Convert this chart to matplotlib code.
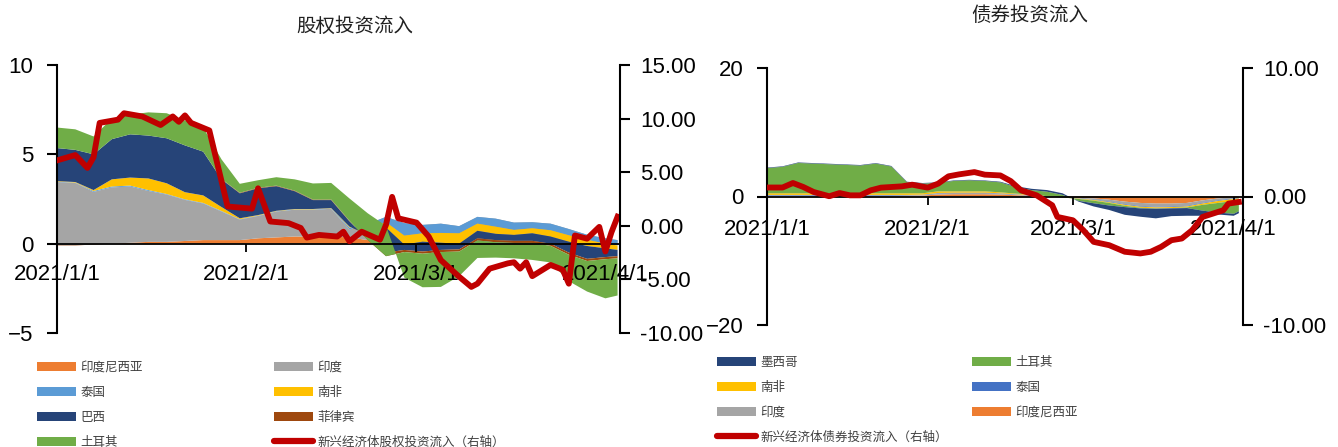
import pandas as pd
import matplotlib
matplotlib.use('Agg')
import matplotlib.pyplot as plt
import matplotlib.dates as mdates
from matplotlib.patches import Patch
from matplotlib.lines import Line2D
from matplotlib.ticker import FormatStrFormatter

START = pd.Timestamp('2021-01-01')

# ---- equity inflows (left panel), stacked in this order ----
eq_area_days = [0, 3, 6, 9, 12, 15, 18, 21, 24, 27, 30, 33, 36, 39, 42, 45,
                48, 51, 54, 57, 60, 63, 66, 69, 72, 75, 78, 81, 84, 87, 90, 92]
eq_indonesia = [-0.1, -0.1, -0.05, 0.0, 0.05, 0.1, 0.1, 0.15, 0.2, 0.2, 0.2, 0.3, 0.35, 0.4, 0.4, 0.4,
                0.35, 0.2, 0.2, 0.05, 0.0, 0.0, 0.0, 0.0, 0.0, 0.0, 0.0, 0.0, 0.0, 0.0, 0.0, 0.0]
eq_india = [3.55, 3.5, 2.95, 3.15, 3.15, 2.85, 2.65, 2.3, 2.05, 1.6, 1.15, 1.25, 1.45, 1.5, 1.5, 1.55,
            0.45, 0.9, 1.3, 1.1, 1.05, 1.12, 0.98, 1.5, 1.4, 1.18, 1.2, 1.12, 0.82, 0.5, 0.3, 0.2]
eq_thailand = [0.02, 0.02, 0.05, 0.05, 0.05, 0.05, 0.03, 0.03, 0.03, 0.03, 0.02, 0.02, 0.02, 0.02, 0.02, 0.02,
               0.1, -0.3, -0.3, -0.7, -0.47, -0.52, -0.4, -0.38, -0.45, -0.41, -0.34, -0.37, -0.35, -0.28, -0.3, -0.3]
eq_southafrica = [0.03, 0.03, 0.05, 0.4, 0.45, 0.65, 0.6, 0.4, 0.42, 0.22, 0.05, 0.03, 0.02, 0.02, 0.02, 0.02,
                  0.05, -0.3, -0.3, -0.5, -0.47, -0.55, -0.58, -0.4, -0.4, -0.28, -0.28, -0.35, -0.36, -0.35, -0.26, -0.25]
eq_brazil = [1.85, 1.8, 2.0, 2.25, 2.42, 2.4, 2.52, 2.62, 2.45, 1.55, 1.4, 1.5, 1.38, 1.0, 0.5, 0.45,
             0.3, -0.25, -1.4, -0.3, -0.55, -0.4, -0.32, -0.42, -0.35, -0.33, -0.42, -0.4, -0.61, -0.72, -0.49, -0.35]
eq_philippines = [0.0, 0.0, 0.0, 0.0, 0.0, 0.0, 0.0, 0.0, 0.0, 0.02, 0.03, 0.03, 0.03, 0.03, 0.03, 0.03,
                  0.03, -0.05, -0.2, -0.12, -0.12, -0.12, -0.12, -0.12, -0.12, -0.12, -0.12, -0.12, -0.12, -0.12, -0.12, -0.12]
eq_turkey = [1.15, 1.15, 1.0, 1.15, 1.1, 1.3, 1.4, 1.4, 1.35, 1.1, 0.5, 0.42, 0.47, 0.63, 0.9, 0.93,
             1.25, 1.5, 1.7, -1.43, -1.88, -1.95, -1.38, -0.98, -0.86, -0.86, -0.95, -0.93, -1.48, -1.71, -2.19, -2.08]

eq_line_days = [0, 3, 5, 6, 7, 10, 11, 14, 17, 19, 20, 21, 22, 25, 28, 32, 33, 35, 38, 40,
                41, 43, 46, 47, 48, 50, 53, 54, 55, 56, 59, 61, 63, 66, 68, 69, 71, 74, 75, 76,
                77, 78, 81, 83, 84, 85, 87, 89, 90, 91, 92]
eq_total = [6.1, 6.6, 5.4, 6.4, 9.6, 9.9, 10.5, 10.2, 9.4, 10.2, 9.7, 10.3, 9.6, 8.9, 1.8, 1.6, 3.5, 0.4, 0.25, -0.2,
            -1.1, -0.85, -1.0, -0.55, -1.45, -0.55, -1.3, 0.1, 2.7, 0.7, 0.3, -1.0, -3.2, -4.75, -5.7, -5.4, -4.0, -3.5, -3.4, -4.0,
            -3.4, -4.7, -3.65, -4.1, -5.4, -0.9, -1.2, -0.1, -2.4, -0.6, 0.85]

# ---- bond inflows (right panel), stacked in this order ----
bd_area_days = [0, 3, 6, 9, 12, 15, 18, 21, 24, 27, 30, 33, 36, 39, 42, 45,
                48, 51, 54, 57, 60, 63, 66, 69, 72, 75, 78, 81, 84, 87, 90, 91]
bd_indonesia = [0.05, 0.05, 0.05, 0.05, 0.05, 0.05, 0.05, 0.05, 0.05, 0.1, 0.15, 0.3, 0.35, 0.35, 0.35, 0.3,
                0.2, 0.1, 0.0, -0.1, -0.2, -0.3, -0.5, -0.8, -1.0, -1.1, -1.1, -1.0, -0.6, -0.3, -0.1, -0.05]
bd_india = [0.1, 0.1, 0.1, 0.1, 0.1, 0.1, 0.1, 0.1, 0.1, 0.1, 0.1, 0.2, 0.2, 0.2, 0.2, 0.15,
            0.1, 0.05, 0.0, -0.05, -0.1, -0.2, -0.3, -0.4, -0.5, -0.5, -0.45, -0.45, -0.4, -0.3, -0.2, -0.15]
bd_thailand = [0.1, 0.1, 0.1, 0.1, 0.1, 0.1, 0.1, 0.1, 0.1, 0.05, 0.05, 0.05, 0.05, 0.05, 0.05, 0.05,
               0.05, 0.05, 0.0, 0.0, -0.02, -0.05, -0.1, -0.1, -0.1, -0.1, -0.1, -0.1, -0.1, -0.1, -0.1, -0.1]
bd_southafrica = [0.25, 0.25, 0.25, 0.25, 0.25, 0.25, 0.25, 0.25, 0.25, 0.25, 0.2, 0.25, 0.2, 0.2, 0.2, 0.15,
                  0.1, 0.1, 0.05, 0.0, -0.05, -0.1, -0.1, -0.15, -0.15, -0.15, -0.15, -0.15, -0.2, -0.3, -0.3, -0.2]
bd_turkey = [3.92, 4.12, 4.72, 4.62, 4.52, 4.42, 4.32, 4.62, 4.17, 1.72, 1.52, 1.32, 1.62, 1.72, 1.62, 1.55,
             1.0, 0.7, 0.7, 0.4, -0.3, -0.4, -0.4, -0.2, -0.1, -0.05, -0.05, -0.1, -0.9, -1.5, -2.0, -1.8]
bd_mexico = [0.08, 0.08, 0.08, 0.08, 0.08, 0.08, 0.08, 0.08, 0.08, 0.08, 0.08, 0.08, 0.08, 0.08, 0.08, 0.1,
             0.15, 0.2, 0.25, 0.25, -0.1, -0.5, -0.7, -1.2, -1.3, -1.5, -1.2, -1.2, -0.8, -0.3, -0.3, -0.3]

bd_line_days = [0, 3, 5, 7, 9, 12, 14, 16, 18, 20, 22, 26, 28, 31, 33, 35, 37, 40, 42, 45,
                47, 49, 52, 55, 56, 59, 61, 63, 66, 69, 72, 74, 76, 78, 80, 82, 84, 86, 88, 89, 91]
bd_total = [0.7, 0.7, 1.05, 0.74, 0.35, 0.02, 0.27, 0.09, 0.09, 0.48, 0.69, 0.79, 0.92, 0.69, 1.0, 1.57, 1.72, 1.9, 1.7, 1.64,
            1.2, 0.48, 0.09, -0.68, -1.59, -1.85, -2.62, -3.53, -3.79, -4.3, -4.43, -4.3, -3.92, -3.4, -3.27, -2.62, -1.59, -1.33, -1.07, -0.55,
            -0.43]

month_ticks = ['2021-01-01', '2021-02-01', '2021-03-01', '2021-04-01']
month_labels = ['2021/1/1', '2021/2/1', '2021/3/1', '2021/4/1']

ORANGE = '#ED7D31'
GRAY = '#A5A5A5'
LBLUE = '#5B9BD5'
YELLOW = '#FFC000'
NAVY = '#264478'
BROWN = '#9E480E'
GREEN = '#70AD47'
BLUE = '#4472C4'
RED = '#C00000'

CJK = ['Noto Sans CJK SC', 'DejaVu Sans']
NUM = 'Liberation Sans'
W, H = 1338, 447


def to_dates(days):
    return mdates.date2num([START + pd.Timedelta(days=d) for d in days])


def style_axes(ax, axr, xmax, xpad):
    ax.set_xlim(to_dates([0])[0], to_dates([xmax])[0])
    ax.set_xticks(to_dates([(pd.Timestamp(t) - START).days for t in month_ticks]))
    ax.set_xticklabels(month_labels)
    for s in ('top', 'right'):
        ax.spines[s].set_visible(False)
    ax.spines['bottom'].set_position(('data', 0))
    ax.spines['bottom'].set_linewidth(1.3)
    ax.spines['left'].set_linewidth(1.5)
    ax.tick_params(axis='x', direction='out', length=6, width=1.3, pad=xpad, labelsize=16)
    ax.tick_params(axis='y', direction='out', length=7, width=1.5, pad=10, labelsize=16)
    for s in ('top', 'left', 'bottom'):
        axr.spines[s].set_visible(False)
    axr.spines['right'].set_linewidth(1.5)
    axr.tick_params(axis='y', direction='out', length=7, width=1.5, pad=7.5, labelsize=16)
    axr.yaxis.set_major_formatter(FormatStrFormatter('%.2f'))
    for lab in ax.get_xticklabels() + ax.get_yticklabels() + axr.get_yticklabels():
        lab.set_fontfamily(NUM)


def legend_col(fig, items, x_px, y_px):
    handles = []
    for label, color, kind in items:
        if kind == 'line':
            handles.append(Line2D([], [], color=color, lw=4.5, solid_capstyle='round'))
        else:
            handles.append(Patch(facecolor=color, edgecolor='none'))
    leg = fig.legend(handles, [i[0] for i in items], loc='upper left',
                     bbox_to_anchor=(x_px / W, 1 - y_px / H), frameon=False,
                     borderpad=0, borderaxespad=0, handlelength=3.1, handleheight=0.7,
                     handletextpad=0.35, labelspacing=0.95,
                     prop={'family': CJK, 'size': 9})
    for t in leg.get_texts():
        t.set_color('#404040')
    return leg


fig = plt.figure(figsize=(W / 100, H / 100), dpi=100)

# ---------- left: equity ----------
ax1 = fig.add_axes([57 / W, 1 - 333 / H, 563 / W, 268 / H])
ax1.stackplot(to_dates(eq_area_days), eq_indonesia, eq_india, eq_thailand, eq_southafrica,
              eq_brazil, eq_philippines, eq_turkey,
              colors=[ORANGE, GRAY, LBLUE, YELLOW, NAVY, BROWN, GREEN], linewidth=0)
ax1.set_ylim(-5, 10)
ax1.set_yticks([-5, 0, 5, 10])
ax1r = ax1.twinx()
ax1r.plot(to_dates(eq_line_days), eq_total, color=RED, lw=4.2, solid_joinstyle='round')
ax1r.set_ylim(-10, 15)
ax1r.set_yticks([-10, -5, 0, 5, 10, 15])
style_axes(ax1, ax1r, 92.4, 9)

# ---------- right: bonds ----------
ax2 = fig.add_axes([767 / W, 1 - 325 / H, 476 / W, 257 / H])
ax2.stackplot(to_dates(bd_area_days), bd_indonesia, bd_india, bd_thailand, bd_southafrica,
              bd_turkey, bd_mexico,
              colors=[ORANGE, GRAY, BLUE, YELLOW, GREEN, NAVY], linewidth=0)
ax2.set_ylim(-20, 20)
ax2.set_yticks([-20, 0, 20])
ax2r = ax2.twinx()
ax2r.plot(to_dates(bd_line_days), bd_total, color=RED, lw=4.2, solid_joinstyle='round')
ax2r.set_ylim(-10, 10)
ax2r.set_yticks([-10, 0, 10])
style_axes(ax2, ax2r, 91.8, 10)

fig.text(355 / W, 1 - 26 / H, '股权投资流入', ha='center', va='center',
         fontfamily=CJK, fontsize=14, color='#202020')
fig.text(1030 / W, 1 - 15 / H, '债券投资流入', ha='center', va='center',
         fontfamily=CJK, fontsize=14, color='#202020')

legend_col(fig, [('印度尼西亚', ORANGE, 'patch'), ('泰国', LBLUE, 'patch'),
                 ('巴西', NAVY, 'patch'), ('土耳其', GREEN, 'patch')], 37, 361)
legend_col(fig, [('印度', GRAY, 'patch'), ('南非', YELLOW, 'patch'),
                 ('菲律宾', BROWN, 'patch'), ('新兴经济体股权投资流入（右轴）', RED, 'line')], 274, 361)
legend_col(fig, [('墨西哥', NAVY, 'patch'), ('南非', YELLOW, 'patch'),
                 ('印度', GRAY, 'patch'), ('新兴经济体债券投资流入（右轴）', RED, 'line')], 717, 356)
legend_col(fig, [('土耳其', GREEN, 'patch'), ('泰国', BLUE, 'patch'),
                 ('印度尼西亚', ORANGE, 'patch')], 972, 356)

fig.savefig('out.png', dpi=100)
